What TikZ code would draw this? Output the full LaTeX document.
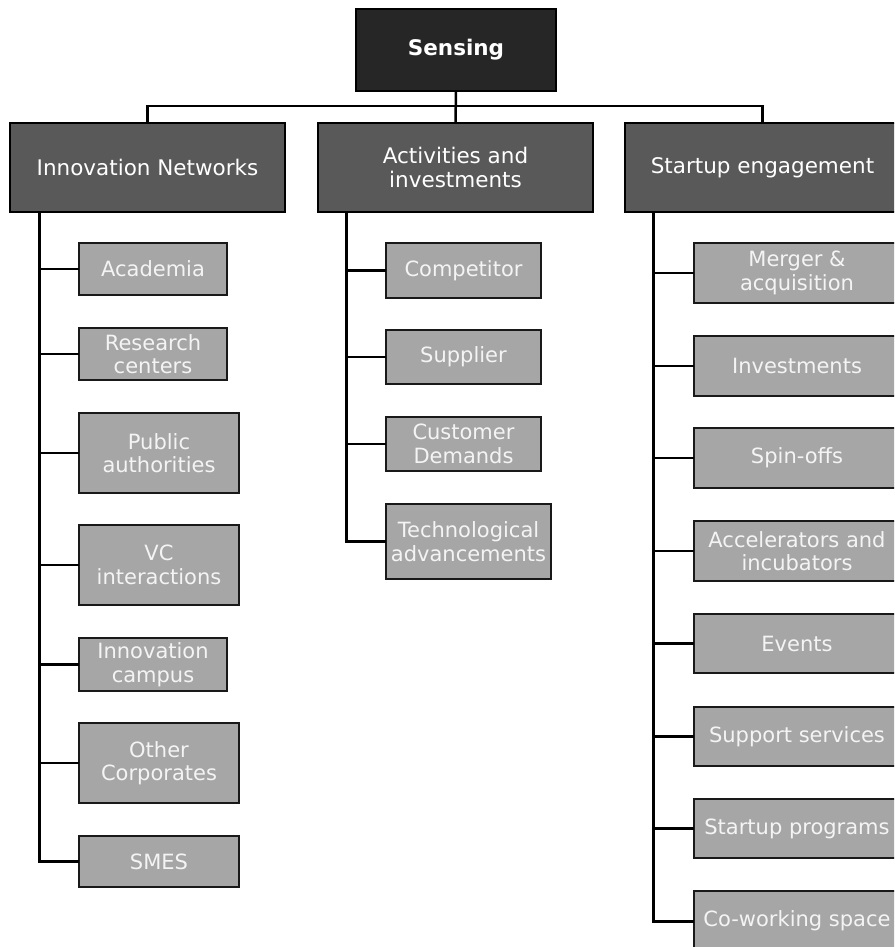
\documentclass[tikz,border=0pt]{standalone}
\usepackage{fontspec}
\setmainfont{DejaVu Sans}
\definecolor{rootfill}{HTML}{262626}
\definecolor{midfill}{HTML}{595959}
\definecolor{leaffill}{HTML}{A6A6A6}
\definecolor{leaftext}{HTML}{F4F4F4}
\begin{document}
\begin{tikzpicture}[x=1pt,y=-1pt,
  box/.style={draw=black, line width=2.4pt, rectangle, inner sep=0pt, outer sep=0pt,
    align=center, font=\fontsize{21.5}{24}\selectfont},
  rootbox/.style={box, fill=rootfill, text=white, font=\fontsize{21.5}{24}\selectfont\bfseries,
    minimum width=200pt, minimum height=82pt},
  midbox/.style={box, fill=midfill, text=white, minimum width=275pt, minimum height=89pt},
  leaf/.style={box, fill=leaffill, text=leaftext, draw=black!90, line width=2.3pt,
    font=\fontsize{21}{23.5}\selectfont},
  trunk/.style={draw=black, line width=3pt},
  branch/.style={draw=black, line width=2.4pt},
  topline/.style={draw=black, line width=2.5pt}]
\useasboundingbox (0,0) rectangle (894,947);
\clip (0,0) rectangle (894,947);
\fill[white] (0,0) rectangle (894,947);

% top of the hierarchy
\node[rootbox] (sens) at (456,50) {Sensing};

% second level
\node[midbox] (innov) at (147.5,167.5) {Innovation Networks};
\node[midbox] (act)   at (455.5,167.5) {Activities and\\investments};
\node[midbox] (start) at (762.5,167.5) {Startup engagement};

\coordinate (bus) at (455.5,106);
\draw[topline] (sens.south) -- (act.north);
\draw[topline] (innov.north) |- (bus) -| (start.north);

% Innovation Networks branch
\node[leaf, minimum width=148pt, minimum height=52pt] (acad) at (153,269) {Academia};
\node[leaf, minimum width=148pt, minimum height=52pt] (rese) at (153,354) {Research\\centers};
\node[leaf, minimum width=160pt, minimum height=80pt] (publ) at (159,453) {Public\\authorities};
\node[leaf, minimum width=160pt, minimum height=80pt] (vcin) at (159,565) {VC\\interactions};
\node[leaf, minimum width=148pt, minimum height=53pt] (camp) at (153,664.5) {Innovation\\campus};
\node[leaf, minimum width=160pt, minimum height=80pt] (corp) at (159,763) {Other\\Corporates};
\node[leaf, minimum width=160pt, minimum height=51pt] (smes) at (159,861.5) {SMES};

\coordinate (tL) at (39,212);
\draw[trunk] (tL) |- (smes.west);
\foreach \n in {acad,rese,publ,vcin,camp,corp}
  \draw[branch] (tL |- \n.west) -- (\n.west);

% Activities and investments branch
\node[leaf, minimum width=155pt, minimum height=55pt] (comp) at (463.5,270.5) {Competitor};
\node[leaf, minimum width=155pt, minimum height=54pt] (supp) at (463.5,357) {Supplier};
\node[leaf, minimum width=155pt, minimum height=54pt] (cust) at (463.5,444) {Customer\\Demands};
\node[leaf, minimum width=165pt, minimum height=75pt] (tech) at (468.5,541.5) {Technological\\advancements};

\coordinate (tM) at (346,212);
\draw[trunk] (tM) |- (tech.west);
\foreach \n in {comp,supp,cust}
  \draw[branch] (tM |- \n.west) -- (\n.west);

% Startup engagement branch
\node[leaf, minimum width=206pt, minimum height=60pt] (merg) at (797,273) {Merger \&\\acquisition};
\node[leaf, minimum width=206pt, minimum height=60pt] (inve) at (797,366) {Investments};
\node[leaf, minimum width=206pt, minimum height=60pt] (spin) at (797,458) {Spin-offs};
\node[leaf, minimum width=206pt, minimum height=60pt] (acce) at (797,551) {Accelerators and\\incubators};
\node[leaf, minimum width=206pt, minimum height=59pt] (even) at (797,643.5) {Events};
\node[leaf, minimum width=206pt, minimum height=59pt] (supo) at (797,736.5) {Support services};
\node[leaf, minimum width=206pt, minimum height=59pt] (prog) at (797,828.5) {Startup programs};
\node[leaf, minimum width=206pt, minimum height=60pt] (cowo) at (797,921) {Co-working space};

\coordinate (tR) at (653,212);
\draw[trunk] (tR) |- (cowo.west);
\foreach \n in {merg,inve,spin,acce,even,supo,prog}
  \draw[branch] (tR |- \n.west) -- (\n.west);
\end{tikzpicture}
\end{document}
